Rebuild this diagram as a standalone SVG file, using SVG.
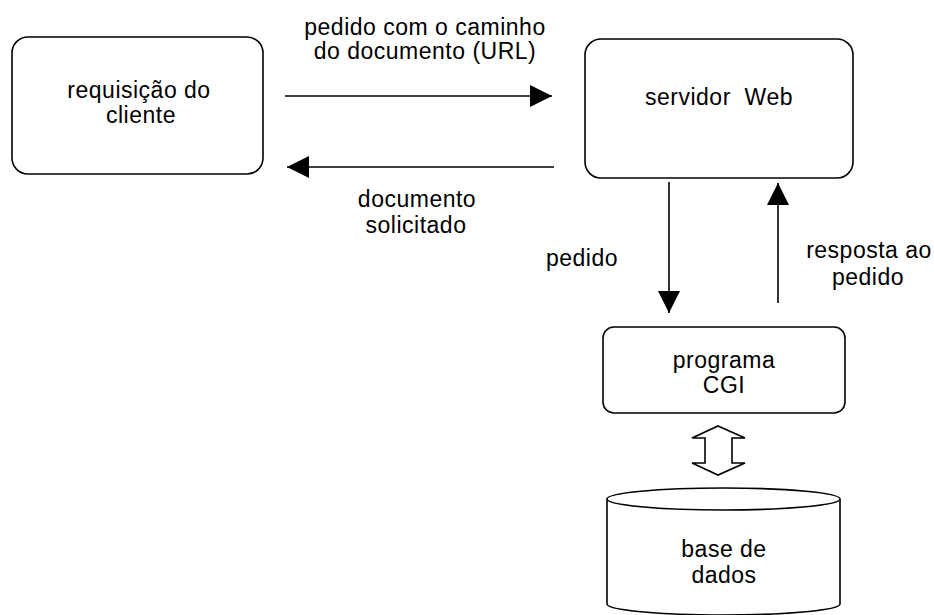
<svg xmlns="http://www.w3.org/2000/svg" width="934" height="615" viewBox="0 0 934 615">
<style>
.box{fill:#fff;stroke:#000;stroke-width:1.6}
.t{font-family:"Liberation Sans",Arial,sans-serif;font-size:23px;letter-spacing:0.5px;fill:#000;text-anchor:middle}
.ln{stroke:#000;stroke-width:1.6;fill:none}
</style>
<defs>
<marker id="ah" markerUnits="userSpaceOnUse" markerWidth="22" markerHeight="22" viewBox="0 0 20 20" refX="20" refY="10" orient="auto">
<path d="M0,0 L20,10 L0,20 Z" fill="#000"/>
</marker>
</defs>
<rect width="934" height="615" fill="#fff"/>
<g id="cliente">
<rect class="box" x="12" y="37" width="251" height="137" rx="16"/>
<text class="t" x="139" y="98">requisição do</text>
<text class="t" x="141" y="123">cliente</text>
</g>
<g id="servidor">
<rect class="box" x="585" y="39" width="268" height="139" rx="16"/>
<text class="t" x="719" y="105" xml:space="preserve">servidor  Web</text>
</g>
<g id="cgi">
<rect class="box" x="603" y="327" width="242" height="86" rx="11"/>
<text class="t" x="724" y="368">programa</text>
<text class="t" x="724" y="393">CGI</text>
</g>
<g id="bd">
<path class="box" d="M607,499 L607,604 A116.5,11 0 0 0 840,604 L840,499"/>
<ellipse class="box" cx="723.5" cy="499" rx="116.5" ry="11"/>
<text class="t" x="724" y="557">base de</text>
<text class="t" x="724" y="583">dados</text>
</g>
<g id="connectors">
<line class="ln" x1="285" y1="96" x2="552" y2="96" marker-end="url(#ah)"/>
<text class="t" x="425" y="35">pedido com o caminho</text>
<text class="t" x="425" y="59">do documento (URL)</text>
<line class="ln" x1="554" y1="167" x2="287" y2="167" marker-end="url(#ah)"/>
<text class="t" x="417" y="207">documento</text>
<text class="t" x="416" y="233">solicitado</text>
<line class="ln" x1="669" y1="182" x2="669" y2="313" marker-end="url(#ah)"/>
<text class="t" x="582" y="266">pedido</text>
<line class="ln" x1="778" y1="303" x2="778" y2="183" marker-end="url(#ah)"/>
<text class="t" x="869" y="258">resposta ao</text>
<text class="t" x="868" y="285">pedido</text>
<polygon class="ln" points="718,426 745,438 732,438 732,463 745,463 718,475 692,463 705,463 705,438 692,438"/>
</g>
</svg>
